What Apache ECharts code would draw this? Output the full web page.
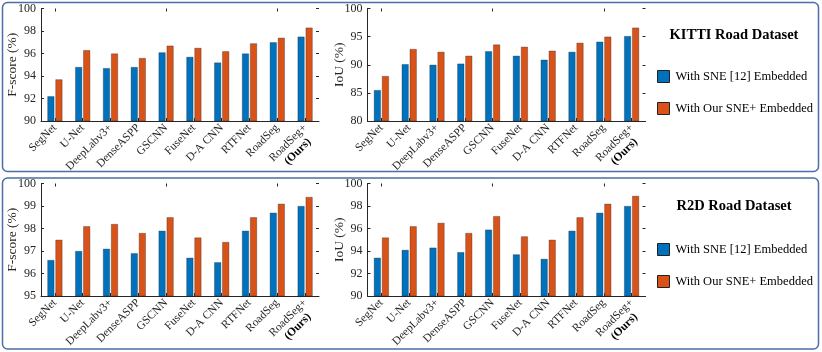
<!DOCTYPE html>
<html>
<head>
<meta charset="utf-8">
<script src="https://cdn.jsdelivr.net/npm/echarts@6/dist/echarts.min.js"></script>
<style>
html,body{margin:0;padding:0;background:#fff;}
#c{width:822px;height:352px;}
</style>
</head>
<body>
<div id="c"></div>
<script>
// ---- data ----
const categories = ['SegNet','U-Net','DeepLabv3+','DenseASPP','GSCNN','FuseNet','D-A CNN','RTFNet','RoadSeg','RoadSeg+'];
const seriesNames = ['With SNE [12] Embedded','With Our SNE+ Embedded'];
const kittiFscoreSNE  = [92.2, 94.8, 94.7, 94.8, 96.1, 95.7, 95.2, 96.0, 97.0, 97.5];
const kittiFscorePlus = [93.7, 96.3, 96.0, 95.6, 96.7, 96.5, 96.2, 96.9, 97.4, 98.3];
const kittiIoUSNE  = [85.5, 90.1, 90.0, 90.2, 92.4, 91.6, 90.9, 92.3, 94.1, 95.1];
const kittiIoUPlus = [88.0, 92.8, 92.3, 91.6, 93.6, 93.2, 92.5, 93.9, 95.0, 96.6];
const r2dFscoreSNE  = [96.6, 97.0, 97.1, 96.9, 97.9, 96.7, 96.5, 97.9, 98.7, 99.0];
const r2dFscorePlus = [97.5, 98.1, 98.2, 97.8, 98.5, 97.6, 97.4, 98.5, 99.1, 99.4];
const r2dIoUSNE  = [93.4, 94.1, 94.3, 93.9, 95.9, 93.7, 93.3, 95.8, 97.4, 98.0];
const r2dIoUPlus = [95.2, 96.2, 96.5, 95.6, 97.1, 95.3, 95.0, 97.0, 98.2, 98.9];
const yRanges = [ // [min, max, interval]
  [90, 100, 2], [80, 100, 5], [95, 100, 1], [90, 100, 2]
];
const yNames = ['F-score (%)', 'IoU (%)', 'F-score (%)', 'IoU (%)'];
const panelTitles = ['KITTI Road Dataset', 'R2D Road Dataset'];

// ---- chart ----
const FONT = 'Liberation Serif';
const TXT = '#262626';
const BLUE = '#0072BD', ORANGE = '#D95319';
const grids = [
  {left: 41, top: 8.5, width: 278, height: 112.5},
  {left: 367.5, top: 8.5, width: 278, height: 112.5},
  {left: 41, top: 183.5, width: 278, height: 112.5},
  {left: 367.5, top: 183.5, width: 278, height: 112.5}
];
const xAxes = [], yAxes = [], series = [];
const dataSets = [
  [kittiFscoreSNE, kittiFscorePlus],
  [kittiIoUSNE, kittiIoUPlus],
  [r2dFscoreSNE, r2dFscorePlus],
  [r2dIoUSNE, r2dIoUPlus]
];
grids.forEach((g, i) => {
  xAxes.push({
    type: 'category', gridIndex: i, data: categories, position: 'bottom',
    axisLine: {show: true, lineStyle: {color: TXT, width: 1}},
    axisTick: {show: true, inside: true, length: 3, alignWithLabel: true, lineStyle: {color: TXT}},
    axisLabel: {
      rotate: 45, margin: 5, color: TXT, fontFamily: FONT, fontSize: 11.5, interval: 0,
      formatter: function (v) {
        if (v === 'RoadSeg+') return '{n| }\n{n|RoadSeg+}\n{b|(Ours)}';
        return v;
      },
      rich: {
        n: {fontFamily: FONT, fontSize: 11.5, color: TXT, lineHeight: 13},
        b: {fontFamily: FONT, fontSize: 11.5, color: '#000', fontWeight: 'bold', lineHeight: 13, padding: [0, 7, 0, 0]}
      }
    }
  });
  xAxes.push({
    type: 'category', gridIndex: i, data: categories, position: 'top',
    axisLine: {show: false},
    axisTick: {show: true, inside: true, length: 3, alignWithLabel: true, lineStyle: {color: TXT}},
    axisLabel: {show: false}
  });
  const r = yRanges[i];
  yAxes.push({
    type: 'value', gridIndex: i, min: r[0], max: r[1], interval: r[2], position: 'left',
    name: yNames[i], nameLocation: 'middle', nameGap: i % 2 === 0 ? 22 : 21,
    nameMoveOverlap: false,
    nameTextStyle: {fontFamily: FONT, fontSize: 13.5, color: TXT},
    axisLine: {show: true, lineStyle: {color: TXT, width: 1}},
    axisTick: {show: true, inside: true, length: 3, lineStyle: {color: TXT}},
    axisLabel: {color: TXT, fontFamily: FONT, fontSize: 12, margin: 5},
    splitLine: {show: false}
  });
  yAxes.push({
    type: 'value', gridIndex: i, min: r[0], max: r[1], interval: r[2], position: 'right',
    axisLine: {show: false},
    axisTick: {show: true, inside: true, length: 3, lineStyle: {color: TXT}},
    axisLabel: {show: false},
    splitLine: {show: false}
  });
  [BLUE, ORANGE].forEach((c, k) => {
    series.push({
      type: 'bar', name: seriesNames[k], xAxisIndex: 2 * i, yAxisIndex: 2 * i,
      data: dataSets[i][k], barWidth: 7, barGap: '15%',
      itemStyle: {color: c, borderColor: 'rgba(30,30,30,0.55)', borderWidth: 0.6},
      animation: false
    });
  });
});

const legendCommon = {
  orient: 'vertical', icon: 'rect', itemWidth: 12, itemHeight: 12, itemGap: 19, padding: 0,
  textStyle: {fontFamily: FONT, fontSize: 12.5, color: '#000', padding: [0, 0, 0, 1]},
  itemStyle: {borderColor: '#222', borderWidth: 1},
  data: seriesNames, selectedMode: false
};

const chart = echarts.init(document.getElementById('c'), null, {renderer: 'canvas'});
chart.setOption({
  animation: false,
  backgroundColor: '#fff',
  grid: grids,
  xAxis: xAxes,
  yAxis: yAxes,
  series: series,
  title: [
    {text: panelTitles[0], left: 734, top: 28, textAlign: 'center', padding: 0,
     textStyle: {fontFamily: FONT, fontSize: 14.5, fontWeight: 'bold', color: '#000'}},
    {text: panelTitles[1], left: 734, top: 199, textAlign: 'center', padding: 0,
     textStyle: {fontFamily: FONT, fontSize: 14.5, fontWeight: 'bold', color: '#000'}}
  ],
  legend: [
    Object.assign({}, legendCommon, {left: 657, top: 70}),
    Object.assign({}, legendCommon, {left: 657, top: 243})
  ],
  graphic: [
    {type: 'rect', shape: {x: 2.5, y: 2.5, width: 816, height: 169, r: 5},
     style: {fill: 'none', stroke: '#4a6ea9', lineWidth: 1.5}, z: -1, silent: true},
    {type: 'rect', shape: {x: 2.5, y: 178, width: 816, height: 171, r: 5},
     style: {fill: 'none', stroke: '#4a6ea9', lineWidth: 1.5}, z: -1, silent: true}
  ]
});
</script>
</body>
</html>
